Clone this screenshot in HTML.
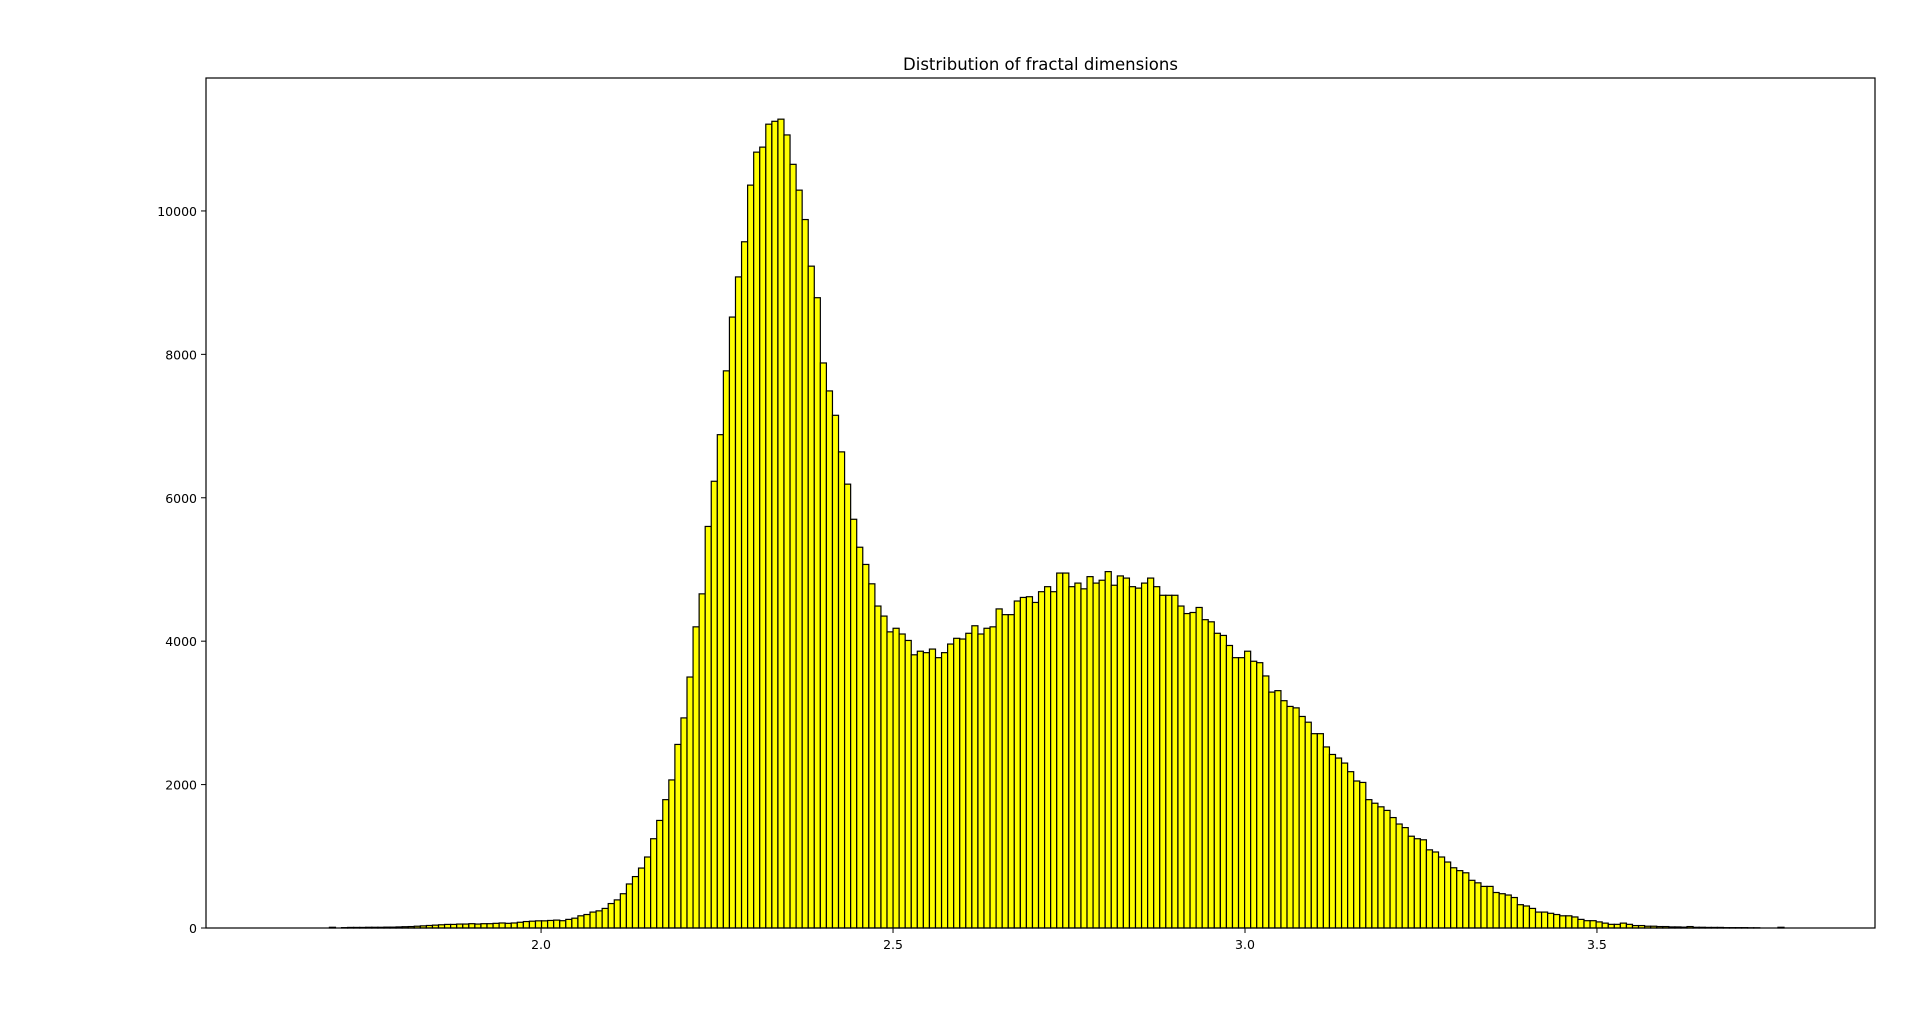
<!DOCTYPE html>
<html><head><meta charset="utf-8"><style>
html,body{margin:0;padding:0;background:#fff;}
svg{display:block;font-family:"DejaVu Sans","Liberation Sans",sans-serif;}
</style></head><body>
<svg id="chart" width="1920" height="1009" viewBox="0 0 1920 1009" xmlns="http://www.w3.org/2000/svg">
<rect x="0" y="0" width="1920" height="1009" fill="#fff"/>
<text x="1040.5" y="70" text-anchor="middle" font-size="16.5" fill="#000">Distribution of fractal dimensions</text>
<g id="bars"></g>
<g id="axes"></g>
</svg>
<script>
const binStart = 1.6735;
const binWidth = 0.00861;
const counts = [0,0,0,10,0,5,8,8,8,10,10,10,12,12,15,18,20,25,30,35,40,45,50,50,55,55,60,55,60,60,65,70,65,70,80,90,95,100,100,105,110,
102,120,137,170,188,222,239,273,341,392,478,614,717,836,990,1245,1500,1790,2065,2560,2930,3500,4200,4660,5600,6230,6880,7770,8520,9080,9570,10360,10820,10890,11210,11250,11280,11060,10650,10290,9880,9230,8790,7880,7490,7150,6640,6190,5700,5310,5070,4800,4490,4350,4130,4180,4100,4010,3810,3860,3840,3890,3770,3840,3960,4040,4030,4110,4215,4100,4180,4200,4450,4370,4370,4560,4610,4620,4540,4690,4760,4690,4950,4950,4760,4810,4730,4900,4810,4850,4970,4780,4910,4880,4760,4740,4810,4880,4760,4640,4640,4640,4490,4385,4400,4470,4300,4270,4110,4080,3940,3770,3770,3860,3720,3700,3515,3290,3310,3170,3090,3070,2950,2870,2710,2710,2525,2420,2370,2300,2180,2050,2030,1790,1740,1690,1640,1540,1450,1400,1280,1245,1230,1090,1060,990,920,840,800,770,665,630,580,580,495,478,460,425,325,307,273,222,222,205,188,170,170,154,120,102,102,85,68,51,51,68,51,34,34,
25,25,20,20,15,15,12,20,10,10,8,8,8,5,5,5,5,3,3,0,0,0,10,0,0,0,0,0];
const xTicks = [2.0, 2.5, 3.0, 3.5];
const xTickLabels = ["2.0", "2.5", "3.0", "3.5"];
const yTicks = [0, 2000, 4000, 6000, 8000, 10000];
const yTickLabels = ["0", "2000", "4000", "6000", "8000", "10000"];

const plotL = 206, plotR = 1875, plotT = 78, plotB = 928;
const xMin = 1.524, xMax = 3.895, yMin = 0, yMax = 11854;
function xScale(v){ return plotL + (v - xMin) / (xMax - xMin) * (plotR - plotL); }
function yScale(v){ return plotB - (v - yMin) / (yMax - yMin) * (plotB - plotT); }
const NS = "http://www.w3.org/2000/svg";
const barsG = document.getElementById('bars');
const axesG = document.getElementById('axes');

counts.forEach((c, i) => {
  if (c <= 0) return;
  const x0 = xScale(binStart + i * binWidth);
  const x1 = xScale(binStart + (i + 1) * binWidth);
  const y = yScale(c);
  const r = document.createElementNS(NS, 'rect');
  r.setAttribute('x', x0);
  r.setAttribute('y', y);
  r.setAttribute('width', x1 - x0);
  r.setAttribute('height', plotB - y);
  r.setAttribute('fill', '#ffff00');
  r.setAttribute('stroke', '#000');
  r.setAttribute('stroke-width', '1.2');
  
  
  barsG.appendChild(r);
});

const frame = document.createElementNS(NS, 'rect');
frame.setAttribute('x', plotL);
frame.setAttribute('y', plotT);
frame.setAttribute('width', plotR - plotL);
frame.setAttribute('height', plotB - plotT);
frame.setAttribute('fill', 'none');
frame.setAttribute('stroke', '#000');
frame.setAttribute('stroke-width', '1.2');


axesG.appendChild(frame);

xTicks.forEach((t, i) => {
  const x = xScale(t);
  const l = document.createElementNS(NS, 'line');
  l.setAttribute('x1', x); l.setAttribute('x2', x);
  l.setAttribute('y1', plotB); l.setAttribute('y2', plotB + 5);
  l.setAttribute('stroke', '#000');
  
  
  axesG.appendChild(l);
  const tx = document.createElementNS(NS, 'text');
  tx.setAttribute('x', x); tx.setAttribute('y', plotB + 21);
  tx.setAttribute('text-anchor', 'middle');
  tx.setAttribute('font-size', '12.5');
  tx.textContent = xTickLabels[i];
  
  
  axesG.appendChild(tx);
});

yTicks.forEach((t, i) => {
  const y = yScale(t);
  const l = document.createElementNS(NS, 'line');
  l.setAttribute('x1', plotL - 5); l.setAttribute('x2', plotL);
  l.setAttribute('y1', y); l.setAttribute('y2', y);
  l.setAttribute('stroke', '#000');
  
  
  axesG.appendChild(l);
  const tx = document.createElementNS(NS, 'text');
  tx.setAttribute('x', plotL - 9); tx.setAttribute('y', y + 5);
  tx.setAttribute('text-anchor', 'end');
  tx.setAttribute('font-size', '12.5');
  tx.textContent = yTickLabels[i];
  
  
  axesG.appendChild(tx);
});
</script>
</body></html>
